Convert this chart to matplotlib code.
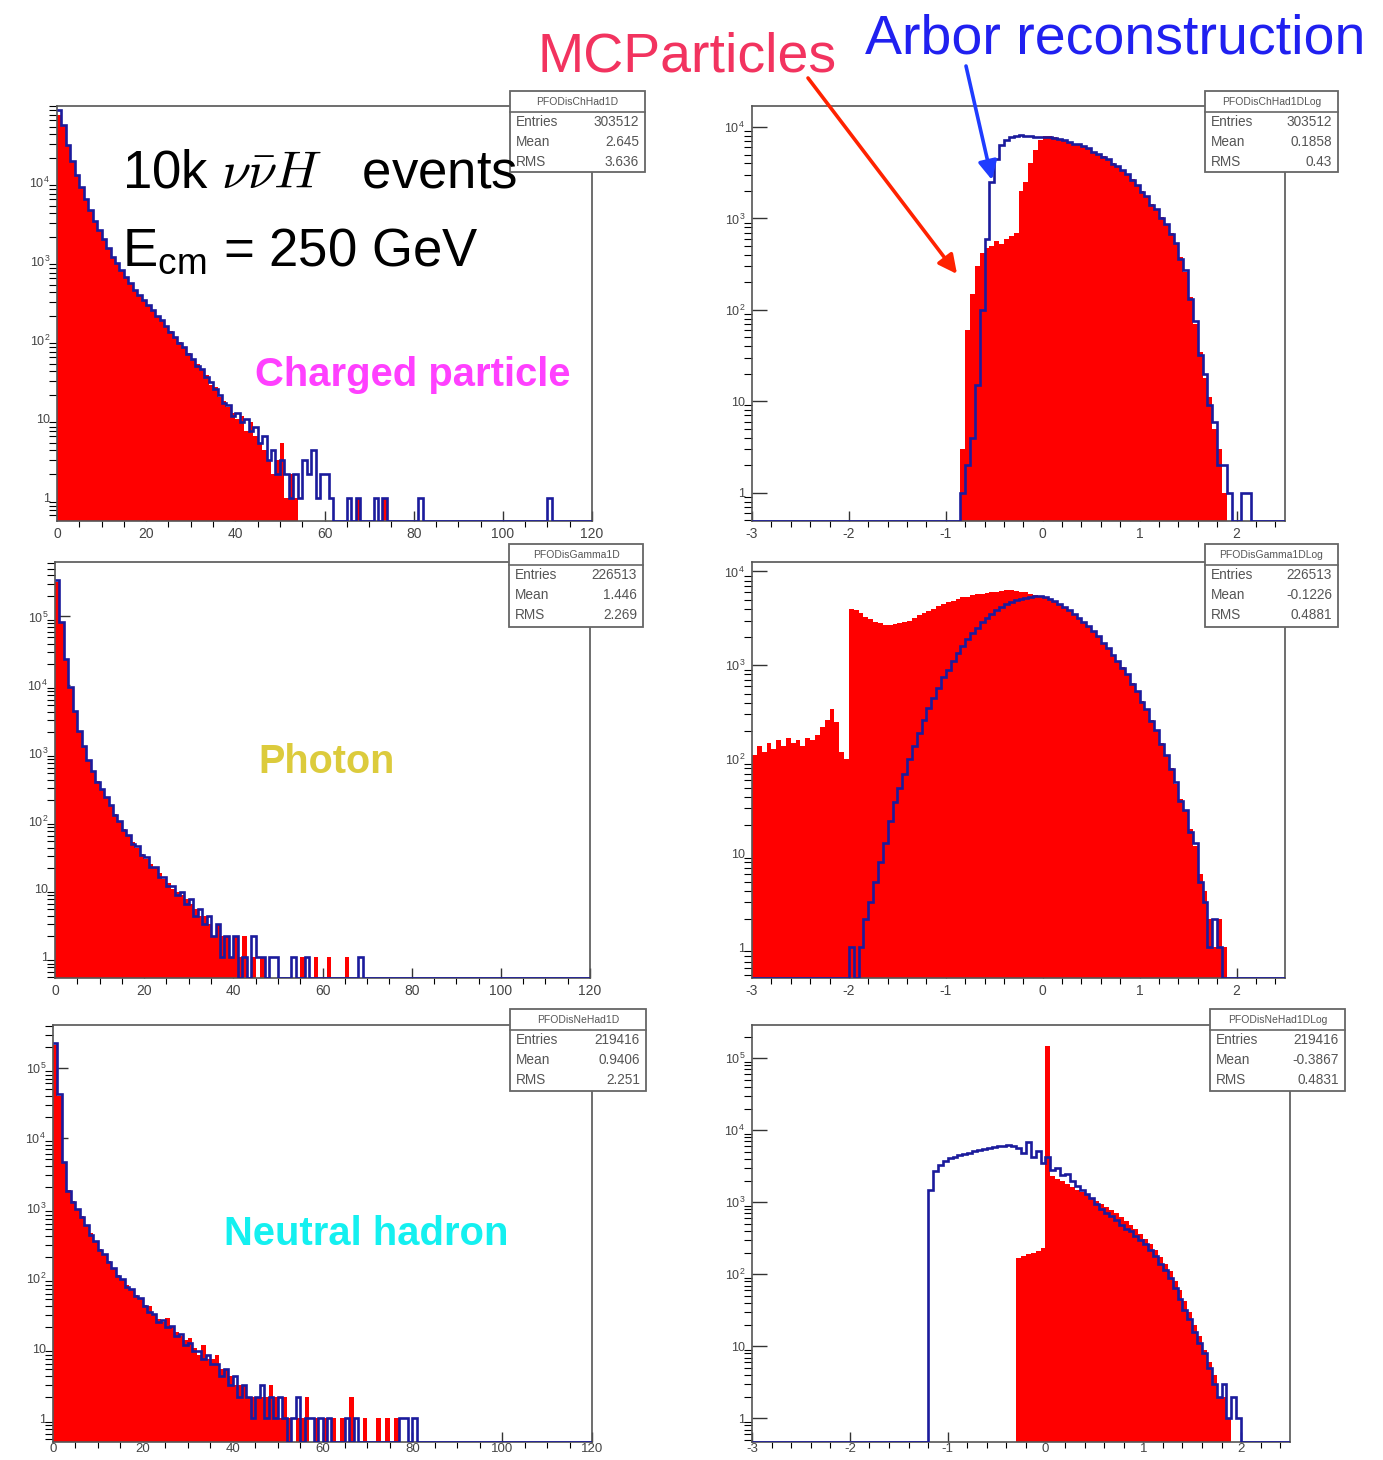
import numpy as np
import matplotlib.pyplot as plt
from matplotlib.patches import Rectangle
from matplotlib.ticker import (MultipleLocator, FixedLocator, FuncFormatter,
                               NullFormatter)

plt.rcParams['font.family'] = ['Liberation Sans', 'DejaVu Sans']
plt.rcParams['axes.unicode_minus'] = False

# ---------------- energy spectra (1 GeV bins, 0..120) ----------------
chhad_mc = [70800, 50100, 28200, 17800, 12000, 8500, 6000, 4300, 3150, 2400,
            1850, 1420, 1110, 915, 740, 615, 520, 425, 365, 315,
            272, 236, 198, 176, 146, 128, 106, 94, 78, 69,
            56, 49, 41, 36, 27, 25, 19, 17, 14, 12,
            10, 11, 7, 9, 6, 5, 4, 3, 2, 3,
            5, 1, 2, 1, 0, 0, 0, 0, 0, 0,
            0, 0, 0, 0, 0, 0, 0, 1, 0, 0,
            0, 0, 0, 1]
chhad_arbor = [80000, 52000, 29000, 18200, 12300, 8700, 6100, 4350, 3200, 2450,
               1880, 1450, 1120, 930, 760, 630, 530, 430, 370, 320,
               276, 240, 200, 180, 150, 125, 108, 92, 80, 66,
               58, 47, 43, 34, 29, 24, 20, 16, 15, 11,
               12, 9, 10, 7, 8, 5, 6, 3, 4, 2,
               3, 2, 1, 2, 1, 3, 2, 4, 1, 2,
               2, 1, 0, 0, 0, 1, 0, 1, 0, 0,
               0, 1, 0, 1, 0, 0, 0, 0, 0, 0,
               0, 1]
chhad_arbor_far = {110: 1}

gamma_mc = [316000, 79400, 23400, 8900, 4000, 2000, 1200, 760, 525, 380,
            288, 224, 166, 126, 95, 76, 60, 48, 40, 33,
            27, 23, 20, 17, 14, 12, 10, 9, 8, 7,
            6, 5, 4, 4, 3, 2, 3, 2, 2, 1,
            2, 1, 2, 0, 1, 0, 1, 0, 0, 0,
            0, 0, 0, 0, 0, 1, 0, 0, 1, 0,
            0, 1, 0, 0, 0, 1]
gamma_arbor = [340000, 82000, 24000, 9100, 4100, 2050, 1230, 770, 540, 370,
               295, 220, 170, 122, 98, 74, 62, 46, 42, 31,
               29, 21, 21, 15, 15, 11, 11, 8, 9, 6,
               7, 4, 5, 3, 4, 2, 3, 1, 2, 1,
               2, 0, 1, 0, 2, 1, 1, 0, 1, 1,
               0, 0, 0, 1, 0, 0, 1, 0, 0, 0,
               0, 0, 0, 0, 0, 0, 0, 0, 1]

nehad_mc = [214000, 40000, 4500, 1800, 1250, 950, 760, 575, 435, 330,
            263, 214, 174, 138, 112, 95, 79, 68, 58, 50,
            42, 40, 30, 26, 24, 27, 20, 17, 15, 13,
            14, 10, 8, 11, 7, 7, 8, 5, 5, 4,
            3, 3, 3, 2, 2, 2, 2, 2, 3, 2,
            1, 2, 1, 0, 1, 1, 2, 0, 1, 0,
            1, 0, 1, 0, 1, 0, 2, 0, 0, 1,
            0, 0, 1, 0, 1, 0, 1]
nehad_arbor = [230000, 42000, 4600, 1780, 1230, 960, 740, 580, 420, 335,
               255, 218, 168, 140, 108, 97, 76, 70, 55, 52,
               40, 33, 31, 24, 25, 20, 21, 15, 16, 11,
               12, 9, 9, 7, 8, 6, 6, 4, 5, 3,
               4, 2, 3, 2, 1, 2, 3, 1, 2, 1,
               2, 1, 0, 1, 2, 0, 1, 1, 0, 1,
               0, 1, 0, 0, 0, 1, 0, 1, 0, 0,
               0, 0, 0, 0, 0, 0, 0, 1, 1, 0, 1]

# ---------------- log10(E) spectra (0.05 bins, -3..2.5) ----------------
chhad_log_mc_start = -0.85
chhad_log_mc = [3, 60, 150, 300, 420, 480, 500, 560, 520, 600,
                650, 700, 2000, 2500, 4000, 5600, 7200, 8000, 7900, 7700,
                7400, 7200, 6900, 6600, 6400, 6200, 5800, 5400, 5000, 4800,
                4400, 4000, 3700, 3400, 3000, 2700, 2300, 2000, 1700, 1450,
                1250, 1050, 850, 700, 520, 380, 260, 140, 70, 35,
                18, 11, 5, 3, 1]
chhad_log_arbor_start = -0.85
chhad_log_arbor = [1, 2, 4, 15, 100, 600, 2500, 4500, 6300, 7200,
                   7800, 8000, 8100, 8000, 7900, 7800, 7700, 7700, 7800, 7650,
                   7450, 7150, 6950, 6550, 6450, 6150, 5850, 5350, 5050, 4750,
                   4450, 3950, 3750, 3350, 3050, 2650, 2350, 1950, 1750, 1400,
                   1280, 1020, 870, 680, 540, 360, 270, 130, 75, 32,
                   20, 9, 6, 2, 2, 1, 0, 0, 1, 1]

gamma_log_mc_start = -3.0
gamma_log_mc = [110, 140, 120, 150, 130, 160, 140, 170, 150, 160,
                140, 170, 160, 180, 220, 260, 340, 250, 120, 100,
                4000, 3900, 3600, 3300, 3100, 2900, 2800, 2700, 2700, 2750,
                2800, 2900, 3000, 3200, 3400, 3600, 3800, 4000, 4300, 4500,
                4700, 4900, 5100, 5300, 5400, 5600, 5700, 5800, 5900, 6000,
                6100, 6200, 6300, 6300, 6200, 6100, 6000, 5800, 5600, 5400,
                5200, 5000, 4700, 4400, 4100, 3800, 3500, 3200, 2900, 2600,
                2300, 2000, 1750, 1500, 1300, 1100, 950, 800, 650, 520,
                420, 340, 260, 200, 150, 110, 80, 55, 38, 28,
                18, 12, 6, 4, 2, 1, 2, 1]
gamma_log_arbor_start = -2.0
gamma_log_arbor = [1, 0, 1, 2, 3, 5, 8, 13, 22, 35,
                   50, 70, 100, 140, 190, 260, 350, 450, 580, 750,
                   900, 1100, 1350, 1600, 1900, 2200, 2500, 2900, 3200, 3550,
                   3850, 4200, 4500, 4750, 4950, 5100, 5250, 5350, 5450, 5450,
                   5400, 5150, 4850, 4500, 4150, 3850, 3550, 3200, 2900, 2600,
                   2300, 2050, 1750, 1520, 1280, 1120, 930, 810, 640, 530,
                   410, 345, 255, 205, 145, 112, 78, 57, 36, 29,
                   17, 13, 5, 3, 1, 2, 1]

nehad_log_mc_start = -0.30
nehad_log_mc = [170, 180, 190, 200, 210, 230, 150000, 2300, 2100, 1950,
                1800, 1650, 1500, 1380, 1250, 1150, 1050, 950, 860, 780,
                700, 620, 550, 480, 420, 360, 310, 260, 215, 175,
                140, 110, 82, 60, 42, 30, 20, 14, 9, 6,
                4, 2, 2, 1]
nehad_log_arbor_start = -1.20
nehad_log_arbor = [1500, 2700, 3300, 3800, 4100, 4300, 4500, 4700, 4900, 5100,
                   5300, 5500, 5700, 5800, 6000, 6100, 6200, 6000, 5600, 4800,
                   6900, 4200, 5200, 3500, 4300, 2800, 3000, 2400, 2500, 2000,
                   1700, 1500, 1300, 1150, 950, 800, 700, 650, 560, 480,
                   430, 400, 340, 300, 260, 220, 180, 140, 115, 90,
                   65, 45, 32, 24, 16, 11, 8, 5, 3, 2,
                   3, 1, 2, 1]

# ---------------- statistics boxes ----------------
stat_names = ['PFODisChHad1D', 'PFODisChHad1DLog', 'PFODisGamma1D',
              'PFODisGamma1DLog', 'PFODisNeHad1D', 'PFODisNeHad1DLog']
stat_entries = ['303512', '303512', '226513', '226513', '219416', '219416']
stat_means = ['2.645', '0.1858', '1.446', '-0.1226', '0.9406', '-0.3867']
stat_rms = ['3.636', '0.43', '2.269', '0.4881', '2.251', '0.4831']

lin_edges = np.arange(0, 121)
log_edges = np.linspace(-3, 2.5, 111)


def lin_hist(vals, extra=None):
    h = np.zeros(len(lin_edges) - 1)
    h[:len(vals)] = vals
    for b, c in (extra or {}).items():
        h[b] = c
    return h


def log_hist(start, vals):
    h = np.zeros(len(log_edges) - 1)
    i0 = int(round((start + 3) / 0.05))
    h[i0:i0 + len(vals)] = vals
    return h


W, H = 1383, 1460
fig = plt.figure(figsize=(W / 100, H / 100), dpi=100)

RED = '#ff0000'
NAVY = '#1b1b9c'


def px_axes(l, t, r, b):
    return fig.add_axes([l / W, 1 - b / H, (r - l) / W, (b - t) / H])


def log_fmt(v, pos):
    if v < 5:
        return '1'
    if v < 50:
        return '10'
    return r'$\mathregular{10^{%d}}$' % round(np.log10(v))


def draw(ax, edges, mc, arbor, xlim, ylim, xmajor, xminor, xpad=4, xsize=10):
    floor = ylim[0] * 1e-3
    ax.stairs(np.where(mc > 0, mc, floor), edges, baseline=floor, fill=True,
              color=RED, lw=0, zorder=2)
    ax.stairs(np.maximum(arbor, ylim[0]), edges, baseline=None, color=NAVY,
              lw=1.9, zorder=3)
    ax.set_xlim(*xlim)
    ax.set_yscale('log')
    ax.set_ylim(*ylim)
    ax.xaxis.set_major_locator(MultipleLocator(xmajor))
    ax.xaxis.set_minor_locator(MultipleLocator(xminor))
    # only decades / minor ticks inside the visible range
    decades = [10.0 ** k for k in range(0, 7) if ylim[0] <= 10.0 ** k <= ylim[1]]
    minors = [m * 10.0 ** k for k in range(-1, 7) for m in range(2, 10)
              if ylim[0] <= m * 10.0 ** k <= ylim[1]]
    ax.yaxis.set_major_locator(FixedLocator(decades))
    ax.yaxis.set_minor_locator(FixedLocator(minors))
    ax.yaxis.set_major_formatter(FuncFormatter(log_fmt))
    ax.yaxis.set_minor_formatter(NullFormatter())
    ax.tick_params(direction='in', colors='#333', labelcolor='#444')
    ax.tick_params(axis='y', which='major', length=11, width=1, pad=5, labelsize=9)
    ax.tick_params(axis='y', which='minor', length=5.5, width=0.8)
    ax.tick_params(axis='x', which='major', length=7, width=1, pad=xpad, labelsize=xsize)
    ax.tick_params(axis='x', which='minor', length=4, width=0.8)
    for s in ax.spines.values():
        s.set_color('#555')
        s.set_linewidth(1.2)


# left column: energy
draw(px_axes(57, 106, 592, 521), lin_edges, lin_hist(chhad_mc),
     lin_hist(chhad_arbor, chhad_arbor_far), (0, 120), (0.51, 9.1e4), 20, 5)
draw(px_axes(55, 562, 590, 978), lin_edges, lin_hist(gamma_mc),
     lin_hist(gamma_arbor), (0, 120), (0.49, 6.3e5), 20, 5)
draw(px_axes(53, 1025, 592, 1442), lin_edges, lin_hist(nehad_mc),
     lin_hist(nehad_arbor), (0, 120), (0.46, 4.1e5), 20, 5, xpad=0.5, xsize=9.5)

# right column: log10 energy
draw(px_axes(752, 106, 1285, 521), log_edges,
     log_hist(chhad_log_mc_start, chhad_log_mc),
     log_hist(chhad_log_arbor_start, chhad_log_arbor),
     (-3, 2.5), (0.49, 1.7e4), 1, 0.2)
draw(px_axes(752, 562, 1285, 978), log_edges,
     log_hist(gamma_log_mc_start, gamma_log_mc),
     log_hist(gamma_log_arbor_start, gamma_log_arbor),
     (-3, 2.5), (0.47, 1.26e4), 1, 0.2)
draw(px_axes(752, 1025, 1290, 1442), log_edges,
     log_hist(nehad_log_mc_start, nehad_log_mc),
     log_hist(nehad_log_arbor_start, nehad_log_arbor),
     (-3, 2.5), (0.47, 2.9e5), 1, 0.2, xpad=0.5, xsize=9.5)

# overlay in pixel coordinates
ov = fig.add_axes([0, 0, 1, 1], zorder=10)
ov.set_xlim(0, W)
ov.set_ylim(H, 0)
ov.axis('off')

box_px = [(510, 91, 645, 172), (1205, 91, 1338, 172), (509, 544, 643, 627),
          (1205, 544, 1338, 627), (510, 1009, 646, 1091), (1210, 1009, 1345, 1091)]
for (x0, y0, x1, y1), nm, en, mn, rm in zip(box_px, stat_names, stat_entries,
                                            stat_means, stat_rms):
    ov.add_patch(Rectangle((x0, y0), x1 - x0, y1 - y0, fc='white', ec='#666', lw=1.3))
    ov.plot([x0, x1], [y0 + 21, y0 + 21], color='#666', lw=1.2)
    ov.text((x0 + x1) / 2, y0 + 11, nm, fontsize=7.5, color='#555',
            ha='center', va='center')
    for k, (lab, val) in enumerate([('Entries', en), ('Mean', mn), ('RMS', rm)]):
        yy = y0 + 31 + 20 * k
        ov.text(x0 + 6, yy, lab, fontsize=9.8, color='#555', va='center')
        ov.text(x1 - 6, yy, val, fontsize=9.8, color='#555', va='center', ha='right')

# annotations
ov.text(122, 188, r'10k $\nu\bar{\nu}H$   events', fontsize=38, va='baseline',
        math_fontfamily='cm')
ov.text(122, 266, r'E$_\mathregular{cm}$ = 250 GeV', fontsize=38, va='baseline')
ov.text(255, 386, 'Charged particle', fontsize=28.8, fontweight='bold',
        color='#ff40ff', va='baseline')
ov.text(258, 773, 'Photon', fontsize=28.5, fontweight='bold',
        color='#dccb3c', va='baseline')
ov.text(224, 1245, 'Neutral hadron', fontsize=28.8, fontweight='bold',
        color='#14f0f0', va='baseline')
ov.text(538, 71, 'MCParticles', fontsize=40, color='#f2335f', va='baseline')
ov.text(865, 54, 'Arbor reconstruction', fontsize=40, color='#2020f0', va='baseline')

ov.annotate('', xy=(957, 274), xytext=(808, 78),
            arrowprops=dict(arrowstyle='-|>', color='#ff2200', lw=2.6,
                            mutation_scale=28, shrinkA=0, shrinkB=0))
ov.annotate('', xy=(992, 180), xytext=(966, 66),
            arrowprops=dict(arrowstyle='-|>', color='#1f3cff', lw=2.6,
                            mutation_scale=28, shrinkA=0, shrinkB=0))

fig.savefig('out.png', dpi=100, facecolor='white')
